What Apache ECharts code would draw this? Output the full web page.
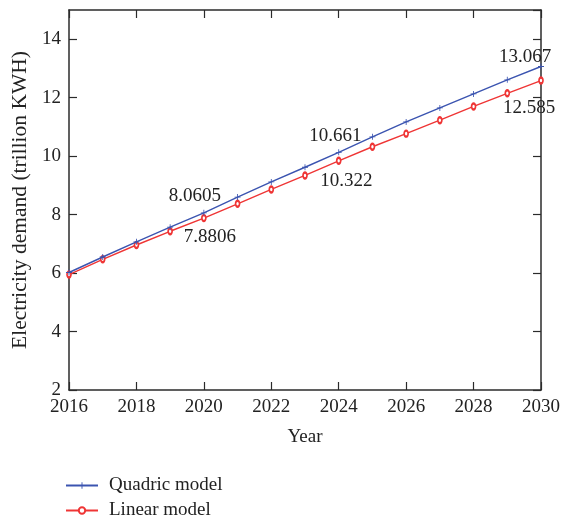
<!DOCTYPE html>
<html>
<head>
<meta charset="utf-8">
<script src="https://cdn.jsdelivr.net/npm/echarts@6/dist/echarts.min.js"></script>
<style>
  html, body { margin: 0; padding: 0; background: #fff; }
  #chart { width: 563px; height: 521px; }
</style>
</head>
<body>
<div id="chart"></div>
<script>
// Forecast years
const years = [2016, 2017, 2018, 2019, 2020, 2021, 2022, 2023, 2024, 2025, 2026, 2027, 2028, 2029, 2030];
// Electricity demand forecasts (trillion KWH)
const quadric = [6.02, 6.55, 7.07, 7.57, 8.0605, 8.60, 9.12, 9.62, 10.13, 10.661, 11.17, 11.65, 12.13, 12.61, 13.067];
const linear  = [5.95, 6.47, 6.96, 7.43, 7.8806, 8.37, 8.86, 9.34, 9.84, 10.322, 10.77, 11.23, 11.70, 12.15, 12.585];
// Axis tick values
const xTicks = [2016, 2018, 2020, 2022, 2024, 2026, 2028, 2030];
const yTicks = [2, 4, 6, 8, 10, 12, 14];

const seriesNames = ['Quadric model', 'Linear model'];
const labelledYears = [2020, 2025, 2030];

// Pixel offsets of the value annotations relative to their points
const quadricLabelOffsets = { 2020: [-9, -17], 2025: [-37, -1], 2030: [-16, -9] };
const linearLabelOffsets  = { 2020: [6, 19], 2025: [-26, 34], 2030: [-12, 27] };

const FONT = '"Liberation Serif", "DejaVu Serif", serif';
const TEXT_COLOR = '#222';
const AXIS_COLOR = '#2b2b2b';
const BLUE = '#3b54b0';
const RED = '#ef3535';
const PLUS = 'path://M4.3,0H5.7V4.3H10V5.7H5.7V10H4.3V5.7H0V4.3H4.3Z';

function buildData(values, offsets) {
  return years.map((yr, i) => {
    const item = { value: [yr, values[i]] };
    if (labelledYears.includes(yr)) {
      item.label = {
        show: true,
        position: 'inside',
        align: 'center',
        verticalAlign: 'middle',
        offset: offsets[yr],
        formatter: p => String(p.value[1]),
        color: TEXT_COLOR,
        fontFamily: FONT,
        fontSize: 19
      };
    }
    return item;
  });
}

const chart = echarts.init(document.getElementById('chart'), null, { renderer: 'canvas' });

const axisCommon = {
  type: 'value',
  axisLine: { show: true, onZero: false, lineStyle: { color: AXIS_COLOR, width: 1.5 } },
  axisTick: { show: true, inside: true, length: 8, lineStyle: { color: AXIS_COLOR, width: 1.2 } },
  splitLine: { show: false }
};

function legendFor(name, top) {
  return {
    data: [name],
    orient: 'vertical',
    left: 60,
    top: top,
    itemWidth: 32,
    itemHeight: 8,
    textStyle: { fontFamily: FONT, fontSize: 19, color: TEXT_COLOR, padding: [0, 0, 0, 6] }
  };
}

chart.setOption({
  animation: false,
  backgroundColor: '#fff',
  grid: { left: 69, right: 21, top: 10, bottom: 131, containLabel: false },
  legend: [legendFor(seriesNames[0], 471), legendFor(seriesNames[1], 496)],
  xAxis: [
    Object.assign({}, axisCommon, {
      min: years[0], max: years[years.length - 1], interval: 2,
      position: 'bottom',
      name: 'Year', nameLocation: 'middle', nameGap: 38,
      nameTextStyle: { fontFamily: FONT, fontSize: 19, color: TEXT_COLOR },
      axisLabel: {
        fontFamily: FONT, fontSize: 19, color: TEXT_COLOR, margin: 8,
        formatter: v => xTicks.includes(v) ? String(v) : ''
      }
    }),
    Object.assign({}, axisCommon, {
      min: years[0], max: years[years.length - 1], interval: 2,
      position: 'top',
      axisLabel: { show: false }
    })
  ],
  yAxis: [
    Object.assign({}, axisCommon, {
      min: 2, max: 15, interval: 2,
      position: 'left',
      name: 'Electricity demand (trillion KWH)', nameLocation: 'middle', nameGap: 36,
      nameTextStyle: { fontFamily: FONT, fontSize: 21.5, color: TEXT_COLOR },
      axisLabel: {
        fontFamily: FONT, fontSize: 19, color: TEXT_COLOR, margin: 8,
        showMaxLabel: false,
        formatter: v => yTicks.includes(v) ? String(v) : ''
      }
    }),
    Object.assign({}, axisCommon, {
      min: 2, max: 15, interval: 2,
      position: 'right',
      axisLabel: { show: false }
    })
  ],
  series: [
    {
      name: seriesNames[0],
      type: 'line',
      xAxisIndex: 0, yAxisIndex: 0,
      data: buildData(quadric, quadricLabelOffsets),
      symbol: PLUS,
      symbolSize: 6,
      showAllSymbol: true,
      lineStyle: { color: BLUE, width: 1.4 },
      itemStyle: { color: BLUE, borderWidth: 0 },
      z: 3
    },
    {
      name: seriesNames[1],
      type: 'line',
      xAxisIndex: 0, yAxisIndex: 0,
      data: buildData(linear, linearLabelOffsets),
      symbol: 'emptyCircle',
      symbolSize: [4, 6],
      showAllSymbol: true,
      lineStyle: { color: RED, width: 1.4 },
      itemStyle: { color: RED, borderColor: RED, borderWidth: 1.2 },
      z: 2
    }
  ]
});
</script>
</body>
</html>
